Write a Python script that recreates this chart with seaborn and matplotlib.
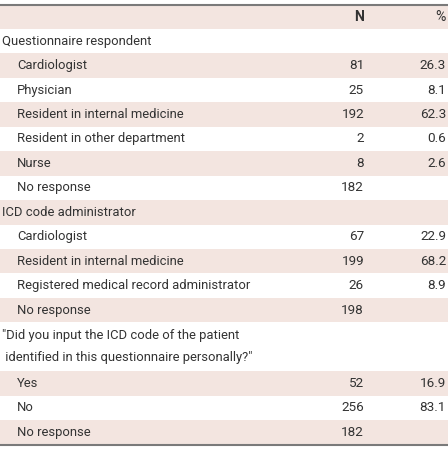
import numpy as np
import matplotlib
matplotlib.use("Agg")
import matplotlib.pyplot as plt
from matplotlib.colors import ListedColormap
import seaborn as sns

# Table content
labels = [
    "Questionnaire respondent",
    "Cardiologist",
    "Physician",
    "Resident in internal medicine",
    "Resident in other department",
    "Nurse",
    "No response",
    "ICD code administrator",
    "Cardiologist",
    "Resident in internal medicine",
    "Registered medical record administrator",
    "No response",
    "\"Did you input the ICD code of the patient\n identified in this questionnaire personally?\"",
    "Yes",
    "No",
    "No response",
]
indent = [0, 1, 1, 1, 1, 1, 1, 0, 1, 1, 1, 1, 0, 1, 1, 1]
row_units = [1, 1, 1, 1, 1, 1, 1, 1, 1, 1, 1, 1, 2, 1, 1, 1]
n_values = [None, 81, 25, 192, 2, 8, 182, None, 67, 199, 26, 198, None, 52, 256, 182]
pct_values = [None, 26.3, 8.1, 62.3, 0.6, 2.6, None, None, 22.9, 68.2, 8.9, None,
              None, 16.9, 83.1, None]
col_headers = ["N", "%"]

shade = "#f3e5e0"
text_color = "#333333"
line_color = "#7a7a7a"

sns.set_style("white")
plt.rcParams['font.family'] = ['Roboto', 'DejaVu Sans']

# build stripe pattern: header shaded, then alternating rows
stripes = [1]
for i, u in enumerate(row_units):
    stripes += [i % 2] * u
stripes = np.array(stripes).reshape(-1, 1)
total_units = len(stripes)

fig = plt.figure(figsize=(4.48, 4.51), dpi=100)
top_px, bottom_px = 4.5, 444.5
ax = fig.add_axes([0, 1 - bottom_px / 451, 1, (bottom_px - top_px) / 451])
sns.heatmap(stripes, cmap=ListedColormap(["white", shade]), cbar=False,
            xticklabels=False, yticklabels=False, ax=ax, linewidths=0)
for s in ax.spines.values():
    s.set_visible(False)

fs = 9.4
x_main, x_sub = 2 / 448, 17 / 448
x_n, x_pct = 364 / 448, 446 / 448

# header
ax.text(x_n, 0.5, col_headers[0], ha="right", va="center", fontsize=fs + 0.7,
        fontweight="bold", color=text_color)
ax.text(x_pct, 0.5, col_headers[1], ha="right", va="center", fontsize=fs + 0.7,
        color=text_color)

y = 1
for lab, ind, units, n, p in zip(labels, indent, row_units, n_values, pct_values):
    yc = y + units / 2
    ax.text(x_sub if ind else x_main, yc, lab, ha="left", va="center",
            fontsize=fs, color=text_color, linespacing=1.9)
    if n is not None:
        ax.text(x_n, yc, str(n), ha="right", va="center", fontsize=fs + 0.3,
                color=text_color)
    if p is not None:
        ax.text(x_pct, yc, f"{p:.1f}", ha="right", va="center", fontsize=fs + 0.3,
                color=text_color)
    y += units

ax.axhline(0, color=line_color, lw=1.5, clip_on=False)
ax.axhline(total_units, color=line_color, lw=1.5, clip_on=False)

fig.savefig("out.png", dpi=100)
